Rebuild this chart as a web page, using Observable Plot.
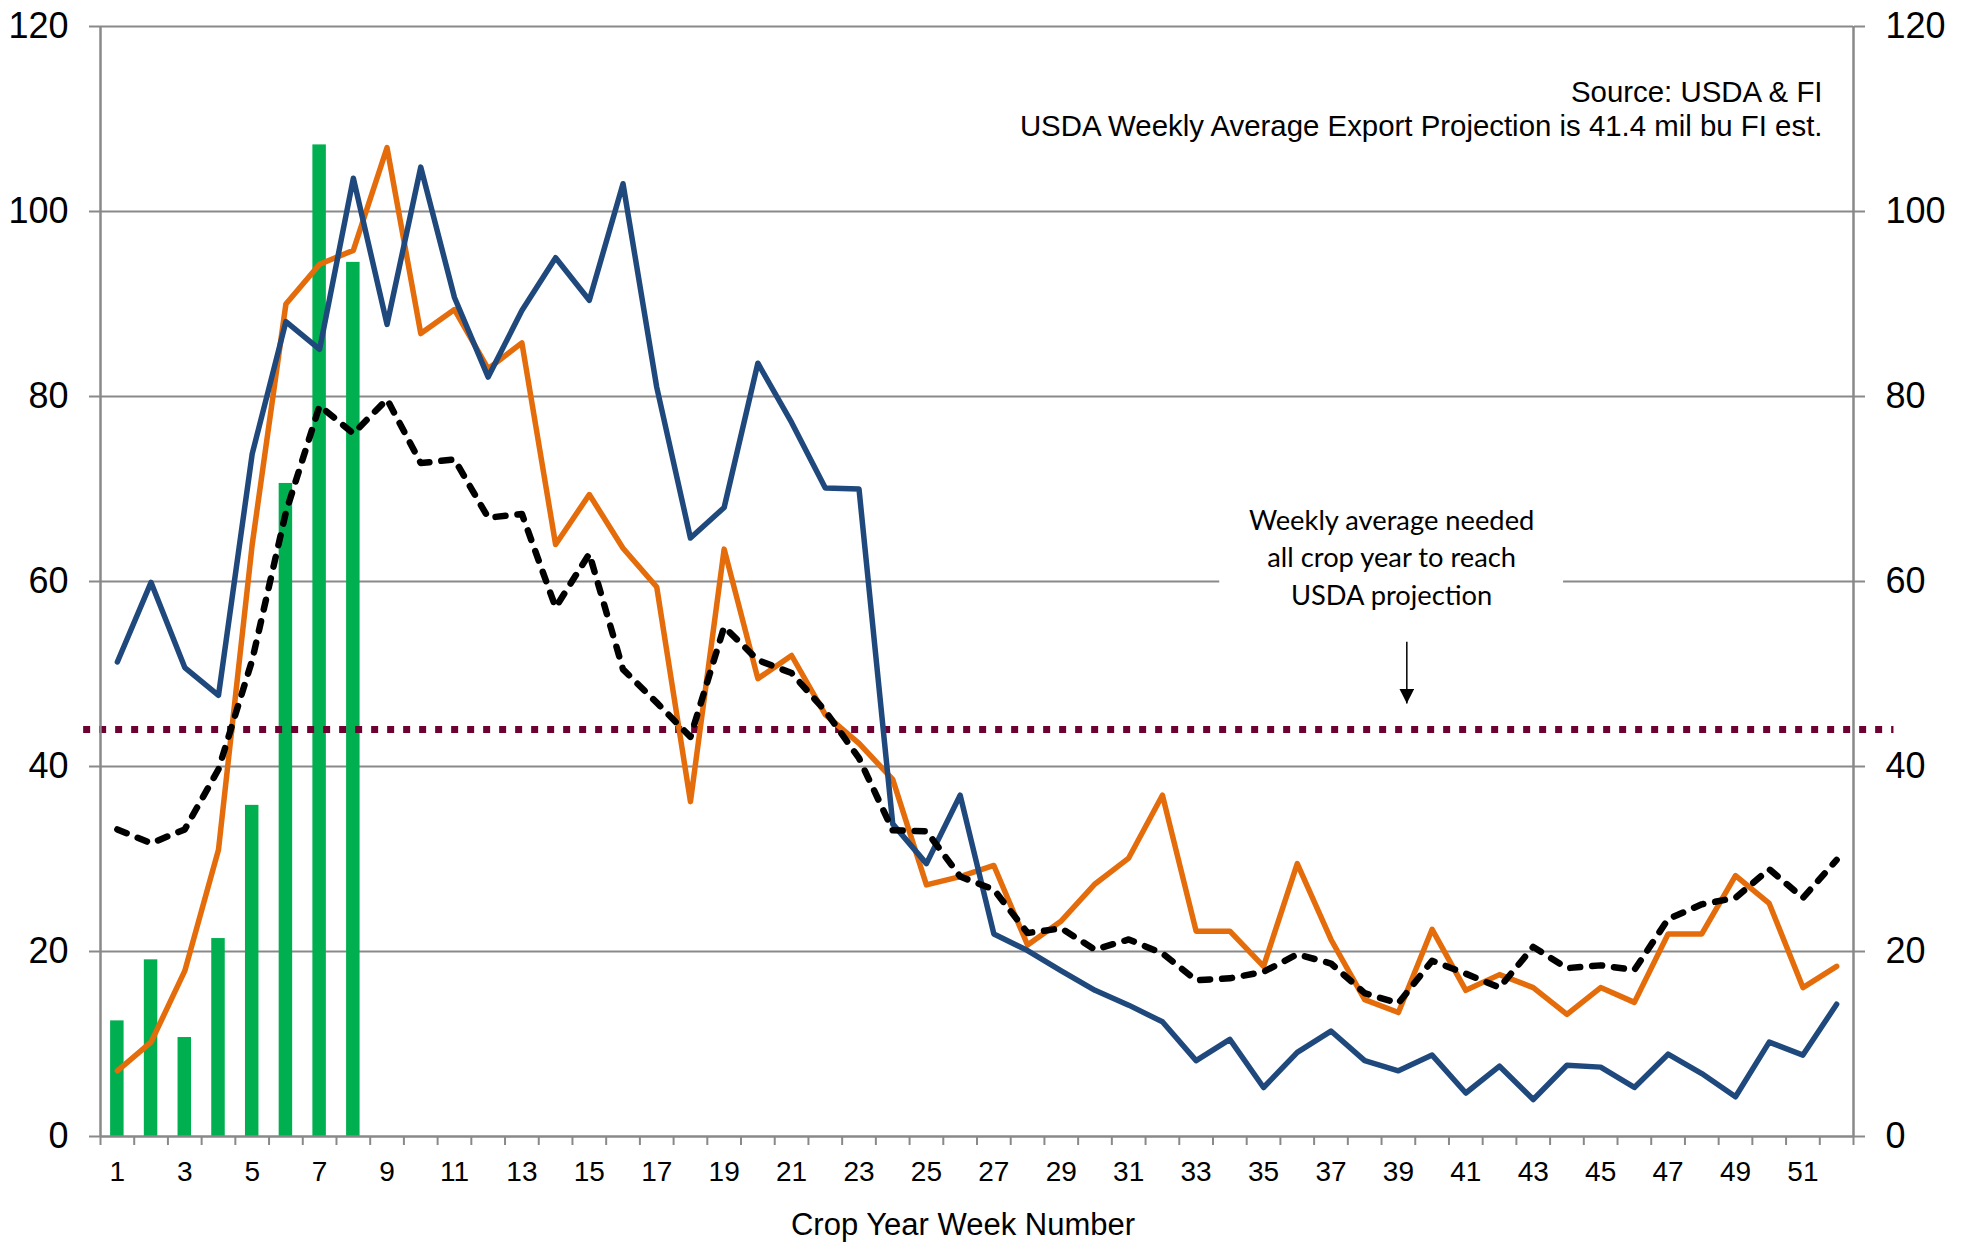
<!DOCTYPE html>
<html>
<head>
<meta charset="utf-8">
<script src="https://cdn.jsdelivr.net/npm/d3@7"></script>
<script src="https://cdn.jsdelivr.net/npm/@observablehq/plot@0.6"></script>
<style>
  html, body { margin: 0; padding: 0; background: #ffffff; }
  #chart svg { display: block; }
</style>
</head>
<body>
<div id="chart"></div>
<script>
// ---- Data ----
const weeks = [1,2,3,4,5,6,7,8,9,10,11,12,13,14,15,16,17,18,19,20,21,22,23,24,25,26,
               27,28,29,30,31,32,33,34,35,36,37,38,39,40,41,42,43,44,45,46,47,48,49,50,51,52];

// green bars: current crop year (weeks 1-8)
const currentYear = [12.5, 19.1, 10.7, 21.4, 35.8, 70.6, 107.2, 94.5];

// blue line
const blueSeries = [51.3, 59.9, 50.7, 47.7, 73.8, 88.1, 85.1, 103.6, 87.8, 104.8,
                    90.7, 82.1, 89.3, 95.0, 90.4, 103.0, 81.0, 64.7, 68.0, 83.6,
                    77.2, 70.1, 70.0, 33.8, 29.5, 36.9, 21.9, 20.1, 17.9, 15.8,
                    14.2, 12.4, 8.2, 10.5, 5.3, 9.1, 11.4, 8.2, 7.1, 8.8,
                    4.7, 7.6, 4.0, 7.7, 7.5, 5.3, 8.9, 6.8, 4.3, 10.2,
                    8.8, 14.3];

// orange line
const orangeSeries = [7.1, 10.2, 17.9, 31.0, 64.0, 90.0, 94.3, 95.8, 106.9, 86.8,
                      89.4, 83.0, 85.8, 64.0, 69.4, 63.6, 59.4, 36.2, 63.5, 49.5,
                      52.0, 45.6, 42.5, 38.6, 27.2, 28.1, 29.3, 20.7, 23.3, 27.3,
                      30.1, 36.9, 22.2, 22.2, 18.4, 29.5, 21.3, 14.8, 13.4, 22.4,
                      15.8, 17.5, 16.1, 13.2, 16.1, 14.5, 21.9, 21.9, 28.2, 25.2,
                      16.1, 18.4];

// black dashed line (average)
const averageSeries = [33.2, 31.7, 33.2, 39.7, 51.5, 67.5, 79.0, 76.0, 79.7, 72.8,
                       73.2, 66.9, 67.3, 57.2, 63.0, 50.5, 46.9, 43.2, 55.1, 51.5,
                       50.1, 46.0, 40.9, 33.1, 33.0, 28.1, 26.7, 22.0, 22.5, 20.2,
                       21.3, 19.8, 16.9, 17.1, 17.8, 19.7, 18.7, 15.5, 14.4, 19.0,
                       17.6, 16.1, 20.5, 18.2, 18.5, 18.0, 23.5, 25.1, 25.8, 28.9,
                       25.8, 29.9];

// dotted maroon line: weekly average needed
const neededAverage = 44.0;
const neededSpan = [0, 53.7];

// ticks & labels
const yTicks = [0, 20, 40, 60, 80, 100, 120];
const xLabelWeeks = [1,3,5,7,9,11,13,15,17,19,21,23,25,27,29,31,33,35,37,39,41,43,45,47,49,51];
const xTitle = "Crop Year Week Number";
const sourceLines = ["Source: USDA & FI", "USDA Weekly Average Export Projection is 41.4 mil bu FI est."];
const noteLines = ["Weekly average needed", "all crop year to reach", "USDA projection"];

// annotation anchors (data units)
const noteWeek = 38.8, noteValue = 62.8;
const noteBox = {x1: 33.7, x2: 43.9, y1: 56.5, y2: 69.5};
const arrowSpec = {week: 39.25, from: 53.5, to: 46.8};

// ---- Build tables ----
const toRows = arr => arr.map((v, i) => ({week: weeks[i], value: v}));
const barRows = toRows(currentYear);
const tickBounds = weeks.map(w => w - 0.5).concat([weeks[weeks.length - 1] + 0.5]);

const gray = "#898989";
const sans = "'Liberation Sans', Arial, Helvetica, sans-serif";

const chart = Plot.plot({
  width: 1971,
  height: 1245,
  marginLeft: 100,
  marginRight: 118,
  marginTop: 26,
  marginBottom: 109,
  x: {type: "linear", domain: [0.5, 52.5], label: null},
  y: {domain: [0, 120], label: null},
  style: {fontFamily: sans, background: "white", color: "black", overflow: "visible"},
  marks: [
    Plot.gridY(yTicks.filter(t => t > 0), {stroke: gray, strokeOpacity: 1, strokeWidth: 2}),
    Plot.rect([noteBox], {x1: "x1", x2: "x2", y1: "y1", y2: "y2", fill: "white"}),
    Plot.rectY(barRows, {x1: d => d.week - 0.2, x2: d => d.week + 0.2, y1: 0, y2: "value", fill: "#00B050"}),
    Plot.ruleY([neededAverage], {x1: () => neededSpan[0], x2: () => neededSpan[1],
      stroke: "#6E0032", strokeWidth: 7, strokeDasharray: "7,9"}),
    Plot.line(toRows(orangeSeries), {x: "week", y: "value", stroke: "#E46C0A", strokeWidth: 5.5,
      strokeLinejoin: "round", strokeLinecap: "round"}),
    Plot.line(toRows(blueSeries), {x: "week", y: "value", stroke: "#1F497D", strokeWidth: 5.5,
      strokeLinejoin: "round", strokeLinecap: "round"}),
    Plot.line(toRows(averageSeries), {x: "week", y: "value", stroke: "black", strokeWidth: 6.5,
      strokeDasharray: "10,12", strokeLinecap: "round", strokeLinejoin: "round"}),
    Plot.ruleX([0.5, 52.5], {stroke: gray, strokeWidth: 2.5}),
    Plot.ruleY([0], {stroke: gray, strokeWidth: 2.5}),
    Plot.axisY({anchor: "left", ticks: yTicks, tickSize: 11, tickPadding: 21, fontSize: 36,
      stroke: gray, strokeWidth: 2, label: null}),
    Plot.axisY({anchor: "right", ticks: yTicks, tickSize: 11, tickPadding: 21, fontSize: 36,
      stroke: gray, strokeWidth: 2, label: null}),
    Plot.axisX({ticks: tickBounds, tickSize: 9, tickFormat: () => "", stroke: gray, strokeWidth: 2, label: null}),
    Plot.axisX({ticks: xLabelWeeks, tickSize: 0, tickPadding: 25, fontSize: 28, label: null, tickFormat: d => `${d}`}),
    Plot.text([xTitle], {frameAnchor: "bottom", dx: -14, dy: 89, fontSize: 31, lineAnchor: "middle"}),
    Plot.text([sourceLines.join("\n")], {frameAnchor: "top-right", dx: -31, dy: 51, lineAnchor: "top",
      textAnchor: "end", fontSize: 29.4, lineHeight: 1.17}),
    Plot.text([noteLines.join("\n")], {x: () => noteWeek, y: () => noteValue, textAnchor: "middle",
      lineAnchor: "middle", fontFamily: "Lato", fontSize: 27.3, lineHeight: 1.36}),
    Plot.link([arrowSpec], {x1: "week", x2: "week", y1: "from", y2: "to", stroke: "black", strokeWidth: 1.5})
  ]
});

document.getElementById("chart").appendChild(chart);

// filled arrowhead for the annotation arrow
const svg = d3.select(chart.tagName.toLowerCase() === "svg" ? chart : chart.querySelector("svg"));
const defs = svg.insert("defs", ":first-child");
defs.append("marker")
  .attr("id", "noteArrowHead")
  .attr("viewBox", "0 0 10 10")
  .attr("refX", 10).attr("refY", 5)
  .attr("markerWidth", 10).attr("markerHeight", 10)
  .attr("orient", "auto")
  .append("path").attr("d", "M0,0L10,5L0,10Z").attr("fill", "black");
svg.selectAll('g[aria-label="link"] path').attr("marker-end", "url(#noteArrowHead)");
</script>
</body>
</html>
